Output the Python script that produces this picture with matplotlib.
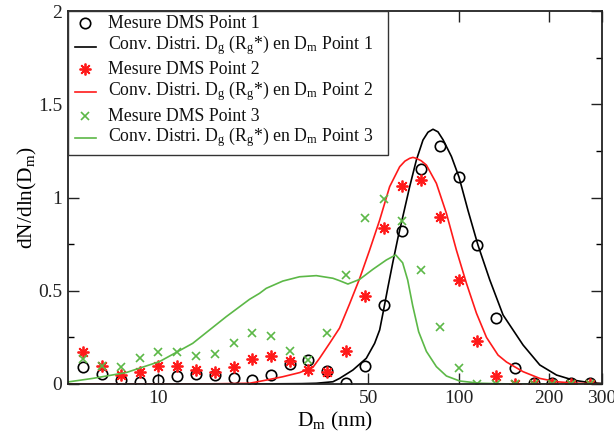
import matplotlib
matplotlib.use("Agg")
import matplotlib.pyplot as plt
from matplotlib.ticker import NullLocator, FixedLocator
from matplotlib.patches import Rectangle

plt.rcParams['font.family'] = ['Liberation Serif', 'DejaVu Serif']
plt.rcParams['mathtext.fontset'] = 'custom'
plt.rcParams['mathtext.rm'] = 'Liberation Serif'
plt.rcParams['mathtext.it'] = 'Liberation Serif:italic'
plt.rcParams['font.size'] = 14

# DMS channel diameters (nm)
dm_channels = [5.62, 6.49, 7.50, 8.66, 10.0, 11.5, 13.3, 15.4, 17.8, 20.5, 23.7, 27.4,
               31.6, 36.5, 42.2, 48.7, 56.2, 64.9, 75.0, 86.6, 100.0, 115.0, 133.0,
               154.0, 178.0, 205.0, 237.0, 274.0]

meas_p1 = [0.093, 0.055, 0.021, 0.011, 0.021, 0.041, 0.053, 0.046, 0.030, 0.023, 0.050, 0.106,
           0.129, 0.070, 0.004, 0.097, 0.424, 0.821, 1.151, 1.274, 1.11, 0.747, 0.352,
           0.087, 0.003, 0.003, 0.003, 0.003]
meas_p2 = [0.173, 0.095, 0.050, 0.063, 0.095, 0.095, 0.075, 0.066, 0.093, 0.135, 0.149, 0.121,
           0.073, 0.065, 0.178, 0.472, 0.838, 1.062, 1.094, 0.894, 0.556, 0.232, 0.043,
           0.0, 0.0, 0.0, 0.0, 0.0]
meas_p3 = [0.135, 0.095, 0.091, 0.140, 0.171, 0.169, 0.148, 0.160, 0.220, 0.275, 0.260, 0.176,
           0.130, 0.272, 0.584, 0.888, 0.992, 0.876, 0.611, 0.307, 0.088, 0.0, 0.0,
           0.0, 0.0, 0.0, 0.0, 0.0]

conv1_d = [5.0, 20.0, 30.0, 33.56, 38.11, 40.11, 44.43, 49.24, 52.48, 54.55, 55.95, 58.13,
           60.39, 62.77, 65.2, 68.66, 72.28, 76.03, 79.0, 82.09, 85.3, 88.65, 94.56, 100.2,
           107.4, 115.9, 126.9, 140.5, 163.8, 186.2, 211.7, 240.5, 273.3, 300.0]
conv1_y = [0.0, 0.0, 0.002, 0.004, 0.012, 0.03, 0.075, 0.138, 0.218, 0.29, 0.38, 0.52,
           0.655, 0.785, 0.90, 1.058, 1.201, 1.308, 1.35, 1.366, 1.352, 1.31, 1.22, 1.11,
           0.93, 0.745, 0.558, 0.37, 0.209, 0.102, 0.048, 0.021, 0.007, 0.003]

conv2_d = [5.0, 13.7, 16.82, 20.11, 22.86, 25.96, 29.51, 32.68, 34.41, 37.15, 40.11, 43.32,
           46.77, 50.5, 54.55, 58.88, 63.6, 66.2, 68.66, 70.4, 72.28, 75.0, 78.04, 84.26,
           90.99, 98.24, 106.1, 114.6, 123.7, 135.2, 144.2, 163.8, 186.2, 211.7, 246.9, 300.0]
conv2_y = [0.0, 0.0, 0.002, 0.004, 0.021, 0.039, 0.061, 0.089, 0.138, 0.218, 0.30, 0.43,
           0.565, 0.718, 0.879, 1.058, 1.165, 1.195, 1.21, 1.215, 1.21, 1.197, 1.174, 1.076,
           0.915, 0.718, 0.54, 0.379, 0.25, 0.155, 0.118, 0.066, 0.03, 0.012, 0.004, 0.001]

conv3_d = [5.0, 6.04, 7.80, 10.08, 13.01, 16.82, 20.11, 21.71, 22.86, 25.96, 29.51, 33.56,
           38.11, 40.11, 42.76, 46.77, 51.8, 57.41, 61.66, 65.05, 67.61, 70.27, 73.56,
           78.04, 84.26, 90.99, 100.8, 117.5, 150.0, 300.0]
conv3_y = [0.011, 0.03, 0.061, 0.12, 0.218, 0.361, 0.454, 0.486, 0.513, 0.552, 0.575, 0.581,
           0.567, 0.554, 0.536, 0.561, 0.615, 0.665, 0.692, 0.65, 0.558, 0.42, 0.28,
           0.175, 0.093, 0.043, 0.016, 0.004, 0.0, 0.0]

x_ticks = [10, 50, 100, 200, 300]
x_tick_labels = ['10', '50', '100', '200', '300']
y_ticks = [0, 0.5, 1, 1.5, 2]
y_tick_labels = ['0', '0.5', '1', '1.5', '2']

labels = ['Mesure DMS Point 1',
          r'Conv. Distri. D$_{\mathrm{g}}$ (R$_{\mathrm{g}}$*) en D$_{\mathrm{m}}$ Point 1',
          'Mesure DMS Point 2',
          r'Conv. Distri. D$_{\mathrm{g}}$ (R$_{\mathrm{g}}$*) en D$_{\mathrm{m}}$ Point 2',
          'Mesure DMS Point 3',
          r'Conv. Distri. D$_{\mathrm{g}}$ (R$_{\mathrm{g}}$*) en D$_{\mathrm{m}}$ Point 3']

RED = '#ff1a1a'
GREEN = '#5cb847'

W, H = 614, 434
AX_L, AX_R, AX_T, AX_B = 68, 602, 11, 384

fig = plt.figure(figsize=(W / 100, H / 100), dpi=100)
ax = fig.add_axes([AX_L / W, 1 - AX_B / H, (AX_R - AX_L) / W, (AX_B - AX_T) / H])

circ_style = dict(ls='none', marker='o', ms=7.5, mfc='none', mec='black', mew=1.2)
ast_style = dict(ls='none', marker=(8, 2, 0), ms=8.5, color=RED, mew=1.3)
x_style = dict(ls='none', marker='x', ms=6, color=GREEN, mew=1.2)

ax.plot(dm_channels, meas_p1, **circ_style)
ax.plot(conv1_d, conv1_y, color='black', lw=1.2)
ax.plot(dm_channels, meas_p2, **ast_style)
ax.plot(conv2_d, conv2_y, color=RED, lw=1.2)
ax.plot(dm_channels, meas_p3, **x_style)
ax.plot(conv3_d, conv3_y, color=GREEN, lw=1.2)

ax.set_xscale('log')
ax.set_xlim(5, 300)
ax.set_ylim(0, 2)
ax.xaxis.set_major_locator(FixedLocator(x_ticks))
ax.set_xticklabels(x_tick_labels)
ax.xaxis.set_minor_locator(NullLocator())
ax.set_yticks(y_ticks)
ax.set_yticklabels(y_tick_labels)
ax.yaxis.set_minor_locator(FixedLocator([0.25, 0.75, 1.25, 1.75]))
ax.tick_params(which='major', direction='in', length=8, width=1.0, top=True, right=True,
               labelsize=14, pad=4, colors='#222222')
ax.tick_params(which='minor', direction='in', length=4.5, width=1.0, top=True, right=True)
for s in ax.spines.values():
    s.set_linewidth(1.3)
    s.set_color('#222222')

ax.set_xlabel(r'D$_{\mathrm{m}}$ (nm)', fontsize=15.5)
ax.set_ylabel(r'dN/dln(D$_{\mathrm{m}}$)', fontsize=15.5)
ax.yaxis.set_label_coords(-0.055, 0.5)
ax.xaxis.set_label_coords(0.5, -0.07)

# ---- legend box drawn in axes coordinates (layout only) ----
def fx(px):
    return (px - AX_L) / (AX_R - AX_L)

def fy(py):
    return (AX_B - py) / (AX_B - AX_T)

box = Rectangle((fx(68), fy(155)), fx(388) - fx(68), fy(11) - fy(155),
                transform=ax.transAxes, facecolor='white', edgecolor='#333333',
                lw=1.0, zorder=5, clip_on=False)
ax.add_patch(box)

text_x = fx(107.7)
baselines = [28.0, 49.0, 74.5, 95.5, 121.0, 141.5]
for lab, by in zip(labels, baselines):
    ax.text(text_x, fy(by), lab, transform=ax.transAxes, fontsize=12.8,
            va='baseline', ha='left', zorder=6, color='#111111')

mk_x = fx(85)
ax.plot([mk_x], [fy(22.5)], transform=ax.transAxes, zorder=6, clip_on=False, **circ_style)
ax.plot([mk_x], [fy(68.5)], transform=ax.transAxes, zorder=6, clip_on=False, **ast_style)
ax.plot([mk_x], [fy(115.5)], transform=ax.transAxes, zorder=6, clip_on=False, **x_style)
for py, col in [(46.5, 'black'), (91.5, RED), (138.0, GREEN)]:
    ax.plot([fx(75), fx(96)], [fy(py), fy(py)], transform=ax.transAxes, color=col,
            lw=1.2, zorder=6, clip_on=False)

fig.savefig('out.png', dpi=100)
